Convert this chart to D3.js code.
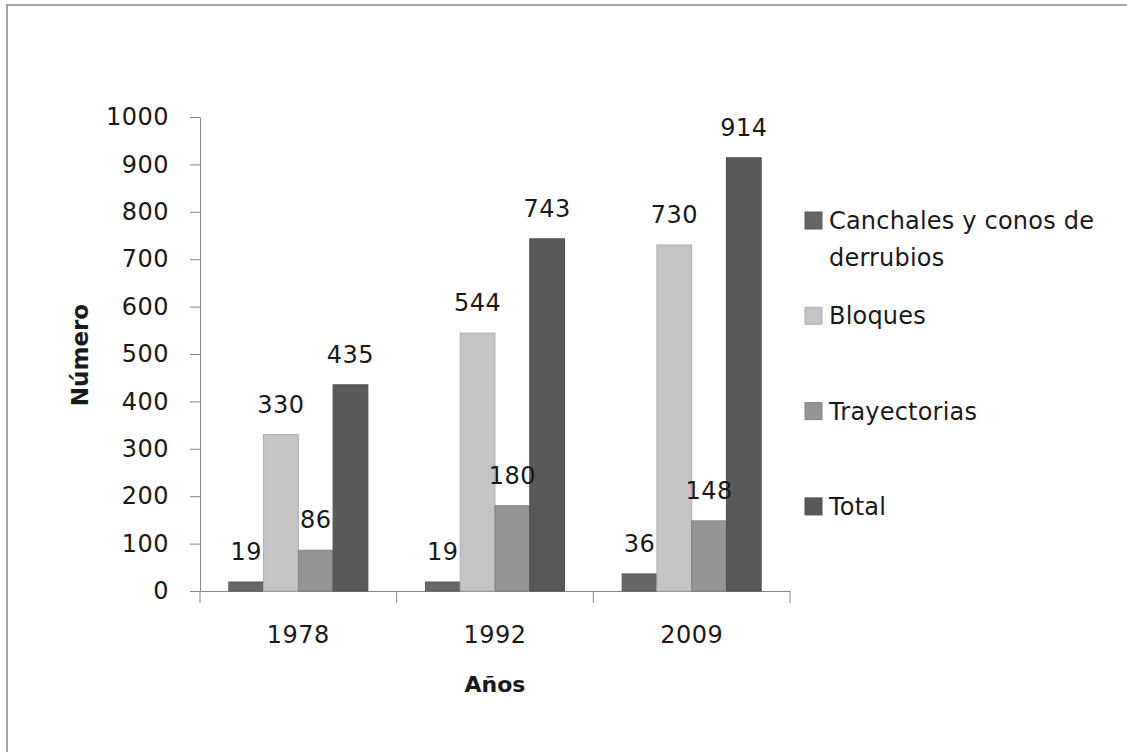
<!DOCTYPE html>
<html>
<head>
<meta charset="utf-8">
<script src="https://cdn.jsdelivr.net/npm/d3@7"></script>
<style>
  html, body { margin: 0; padding: 0; background: #fff; overflow: hidden; }
  text { font-family: "DejaVu Sans", Verdana, sans-serif; fill: #1a1a1a; }
</style>
</head>
<body>
<svg id="chart" width="1127" height="752"></svg>
<script>
// Data
const years = ["1978", "1992", "2009"];
const seriesNames = ["Canchales y conos de derrubios", "Bloques", "Trayectorias", "Total"];
const canchales = [19, 19, 36];
const bloques = [330, 544, 730];
const trayectorias = [86, 180, 148];
const total = [435, 743, 914];
const yTickValues = [0, 100, 200, 300, 400, 500, 600, 700, 800, 900, 1000];
const seriesColors = ["#676767", "#c4c4c4", "#959595", "#595959"];

const seriesValues = [canchales, bloques, trayectorias, total];
const rows = years.map((yr, i) => ({
  year: yr,
  values: seriesNames.map((name, s) => ({ name, value: seriesValues[s][i], s }))
}));

const svg = d3.select("#chart");
const axisColor = "#878787";
const labelSize = 24;

// Outer chart frame
svg.append("rect")
  .attr("x", 7).attr("y", 5)
  .attr("width", 1300).attr("height", 900)
  .attr("fill", "none")
  .attr("stroke", "#a6a6a6")
  .attr("stroke-width", 2);

// Plot area
const plot = { left: 200, right: 790, top: 117, bottom: 591 };

const x0 = d3.scaleBand().domain(years).range([plot.left, plot.right]).padding(0);
const groupWidth = x0.bandwidth() * 0.707;
const groupOffset = (x0.bandwidth() - groupWidth) / 2;
const x1 = d3.scaleBand().domain(seriesNames).range([0, groupWidth]).padding(0);
const y = d3.scaleLinear().domain([0, 1000]).range([plot.bottom, plot.top]);
const color = d3.scaleOrdinal().domain(seriesNames).range(seriesColors);

// Y axis
const yAxis = svg.append("g")
  .attr("transform", `translate(${plot.left},0)`)
  .call(d3.axisLeft(y).tickValues(yTickValues).tickFormat(d3.format("d"))
    .tickSize(10).tickPadding(21).tickSizeOuter(0));
yAxis.select(".domain").attr("stroke", axisColor);
yAxis.selectAll(".tick line").attr("stroke", axisColor);
yAxis.selectAll(".tick text")
  .attr("font-family", "DejaVu Sans, Verdana, sans-serif")
  .attr("font-size", labelSize)
  .attr("letter-spacing", 0.5)
  .attr("fill", "#1a1a1a");

// X axis: baseline, boundary ticks and category labels
const xAxis = svg.append("g")
  .attr("transform", `translate(0,${plot.bottom})`)
  .call(d3.axisBottom(x0).tickSize(0).tickPadding(35).tickSizeOuter(0));
xAxis.select(".domain").attr("stroke", axisColor);
xAxis.selectAll(".tick text")
  .attr("font-family", "DejaVu Sans, Verdana, sans-serif")
  .attr("font-size", labelSize)
  .attr("letter-spacing", 0.5)
  .attr("fill", "#1a1a1a");

const boundaries = years.map(yv => x0(yv)).concat([x0.range()[1]]);
xAxis.selectAll("line.boundary")
  .data(boundaries)
  .join("line")
  .attr("class", "boundary")
  .attr("x1", d => d).attr("x2", d => d)
  .attr("y1", 0).attr("y2", 12)
  .attr("stroke", axisColor);

// Bars
const groups = svg.append("g")
  .selectAll("g.year")
  .data(rows)
  .join("g")
  .attr("class", "year")
  .attr("transform", d => `translate(${x0(d.year) + groupOffset},0)`);

groups.selectAll("rect")
  .data(d => d.values)
  .join("rect")
  .attr("x", d => x1(d.name))
  .attr("width", x1.bandwidth())
  .attr("y", d => y(d.value))
  .attr("height", d => y(0) - y(d.value))
  .attr("fill", d => color(d.name))
  .attr("stroke", d => d3.color(color(d.name)).darker(0.35))
  .attr("stroke-width", 1);

// Value labels
groups.selectAll("text.value")
  .data(d => d.values)
  .join("text")
  .attr("class", "value")
  .attr("x", d => x1(d.name) + x1.bandwidth() / 2)
  .attr("y", d => y(d.value) - 22)
  .attr("text-anchor", "middle")
  .attr("font-size", labelSize)
  .attr("letter-spacing", 0.5)
  .text(d => d.value);

// Axis titles
svg.append("text")
  .attr("transform", "translate(88,355) rotate(-90)")
  .attr("text-anchor", "middle")
  .attr("font-size", 23)
  .attr("font-weight", "bold")
  .text("Número");

svg.append("text")
  .attr("x", x0.range()[0] + (x0.range()[1] - x0.range()[0]) / 2)
  .attr("y", 692)
  .attr("text-anchor", "middle")
  .attr("font-size", 22)
  .attr("font-weight", "bold")
  .text("Años");

// Legend
const legend = { x: 805, textX: 829, firstBaseline: 229, step: 95.3, lineGap: 37, swatch: 17, maxWidth: 275 };

const legendItems = svg.append("g")
  .selectAll("g.legend-item")
  .data(seriesNames)
  .join("g")
  .attr("class", "legend-item")
  .attr("transform", (d, i) => `translate(0,${legend.firstBaseline + i * legend.step})`);

legendItems.append("rect")
  .attr("x", legend.x)
  .attr("y", -legend.swatch)
  .attr("width", legend.swatch)
  .attr("height", legend.swatch)
  .attr("fill", d => color(d))
  .attr("stroke", d => d3.color(color(d)).darker(0.35));

legendItems.each(function(name) {
  const t = d3.select(this).append("text")
    .attr("x", legend.textX)
    .attr("y", 0)
    .attr("font-size", 24)
    .attr("letter-spacing", 0.2);
  // wrap words into lines that fit the legend width
  const words = name.split(" ");
  let line = [];
  let lineNo = 0;
  let tspan = t.append("tspan").attr("x", legend.textX).attr("y", 0);
  words.forEach(w => {
    line.push(w);
    tspan.text(line.join(" "));
    if (tspan.node().getComputedTextLength() > legend.maxWidth && line.length > 1) {
      line.pop();
      tspan.text(line.join(" "));
      line = [w];
      lineNo += 1;
      tspan = t.append("tspan").attr("x", legend.textX).attr("y", lineNo * legend.lineGap).text(w);
    }
  });
});
</script>
</body>
</html>
